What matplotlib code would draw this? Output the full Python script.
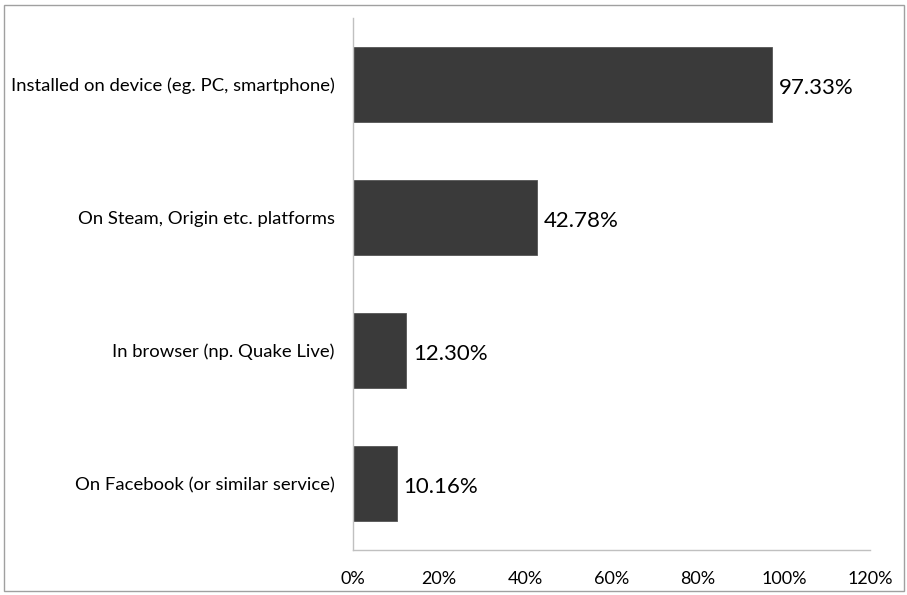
import matplotlib.pyplot as plt
from matplotlib.patches import Rectangle

plt.rcParams['font.family'] = ['Lato', 'DejaVu Sans']

categories = ["Installed on device (eg. PC, smartphone)",
              "On Steam, Origin etc. platforms",
              "In browser (np. Quake Live)",
              "On Facebook (or similar service)"]
values = [97.33, 42.78, 12.30, 10.16]
value_labels = ["97.33%", "42.78%", "12.30%", "10.16%"]
xticks = [0, 20, 40, 60, 80, 100, 120]

fig = plt.figure(figsize=(9.07, 5.95), dpi=100)
ax = fig.add_axes([353 / 907, 45 / 595, 517 / 907, 532 / 595])

ypos = list(range(len(categories)))
ax.barh(ypos, values, height=0.57, color='#3a3a3a', edgecolor='#555555', linewidth=0.6)
ax.set_ylim(len(categories) - 0.5, -0.5)
ax.set_xlim(0, 120)

for y, v, lab in zip(ypos, values, value_labels):
    ax.text(v + 1.6, y + 0.03, lab, va='center', ha='left', fontsize=16, color='black')

ax.set_yticks(ypos)
ax.set_yticklabels(categories, fontsize=13.3)
ax.set_xticks(xticks)
ax.set_xticklabels([f"{t}%" for t in xticks], fontsize=13)
ax.tick_params(length=0)
ax.tick_params(axis='x', pad=15)
ax.tick_params(axis='y', pad=13)

for s in ['top', 'right']:
    ax.spines[s].set_visible(False)
for s in ['left', 'bottom']:
    ax.spines[s].set_color('#c0c0c0')
    ax.spines[s].set_linewidth(1.0)

# outer frame
fig.patches.append(Rectangle((4 / 907, 4 / 595), 900 / 907, 586 / 595,
                             transform=fig.transFigure, fill=False,
                             edgecolor='#a0a0a0', linewidth=1.0))

fig.savefig('out.png', dpi=100)
